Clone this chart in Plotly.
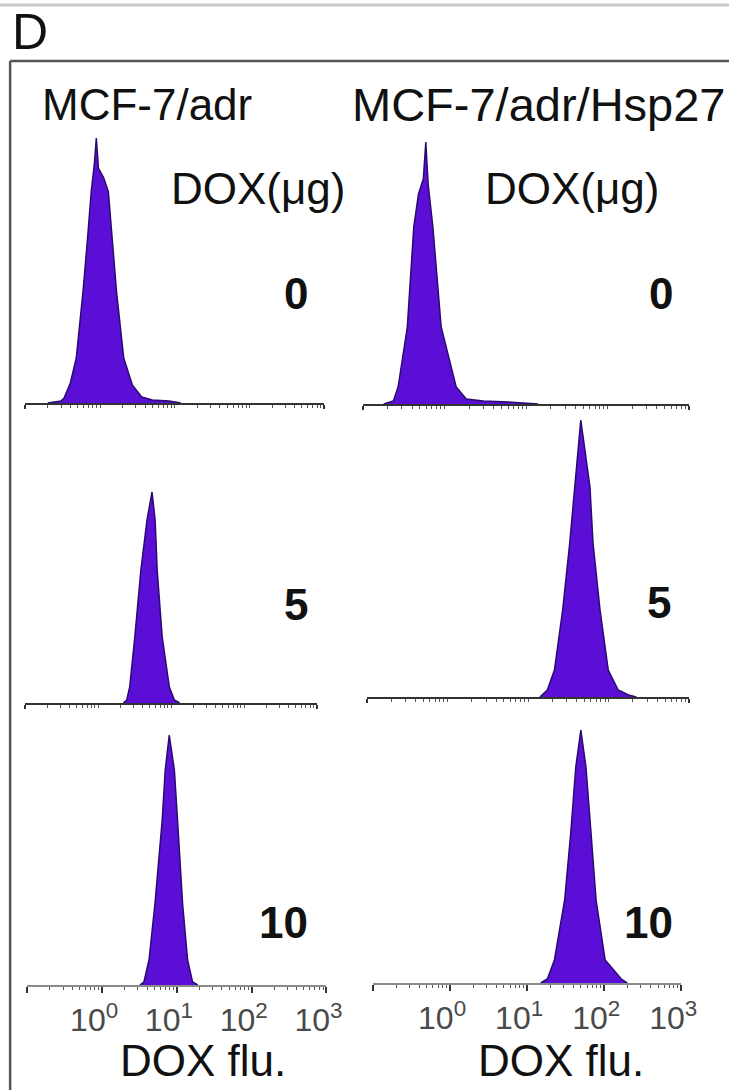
import plotly.graph_objects as go

# ---------------- data ----------------
# DOX fluorescence (linear units, log axis) and cell counts per histogram
adr_0_x = [0.20, 0.30, 0.33, 0.40, 0.48, 0.59, 0.68, 0.76, 0.84, 0.89, 0.95, 1.12, 1.29, 1.66, 2.07, 2.7, 3.6, 5.0, 8.4, 12]
adr_0_y = [0, 2, 5, 20, 45, 111, 165, 211, 240, 265, 235, 225, 211, 111, 45, 18, 6, 3, 2, 0]

hsp_0_x = [0.18, 0.236, 0.27, 0.35, 0.42, 0.48, 0.55, 0.59, 0.63, 0.72, 0.91, 1.39, 1.85, 3.0, 6.0, 10, 14]
hsp_0_y = [0, 3, 17, 77, 177, 210, 225, 262, 220, 177, 77, 17, 5, 3, 2, 1, 0]

adr_5_x = [2.2, 2.45, 2.69, 3.16, 3.83, 4.64, 5.44, 6.0, 6.4, 7.5, 9.4, 11.0, 13]
adr_5_y = [0, 3, 16, 66, 133, 183, 211, 183, 133, 66, 16, 3, 0]

hsp_5_x = [14, 17.3, 21.2, 26.8, 32.8, 37.9, 45, 58.5, 63.8, 78, 98.6, 131, 176, 220]
hsp_5_y = [0, 7, 27, 87, 154, 210, 277, 210, 154, 87, 27, 7, 2, 0]

adr_10_x = [3.2, 3.62, 4.24, 5.1, 6.36, 6.98, 7.9, 9.25, 10.2, 11.9, 13.9, 16.2, 19]
adr_10_y = [0, 3, 25, 82, 165, 215, 250, 215, 165, 82, 25, 3, 0]

hsp_10_x = [15, 18.3, 22.6, 30.7, 36.8, 42.8, 49.8, 58, 67.5, 78.5, 103, 167, 200]
hsp_10_y = [0, 4, 23, 83, 150, 216, 253, 216, 150, 83, 23, 4, 0]

cell_lines = ["MCF-7/adr", "MCF-7/adr/Hsp27"]
doses = ["0", "5", "10"]
tick_vals = [0.1, 1, 10, 100, 1000]
tick_text = ["", "10<sup>0</sup>", "10<sup>1</sup>", "10<sup>2</sup>", "10<sup>3</sup>"]

# ---------------- layout helpers ----------------
W, H = 729, 1090
FONT = "Liberation Sans, Arial, sans-serif"
FILL = "#5a0ed6"
EDGE = "#2a0a70"


def fx(p):
    return p / W


def fy(p):
    return 1 - p / H


# (x data, y data, x-left px, x-right px, baseline px, bottom row?)
panels = [
    (adr_0_x, adr_0_y, 25, 320, 403, False),
    (hsp_0_x, hsp_0_y, 358, 680, 404, False),
    (adr_5_x, adr_5_y, 25, 313, 703, False),
    (hsp_5_x, hsp_5_y, 362, 680, 697, False),
    (adr_10_x, adr_10_y, 27, 322, 985, True),
    (hsp_10_x, hsp_10_y, 368, 672, 983, True),
]

fig = go.Figure()
layout = {}
for i, (xs, ys, xl, xr, base, bottom) in enumerate(panels):
    n = i + 1
    xa = "x" if n == 1 else f"x{n}"
    ya = "y" if n == 1 else f"y{n}"
    fig.add_trace(go.Scatter(
        x=xs, y=ys, xaxis=xa, yaxis=ya, mode="lines",
        line=dict(color=EDGE, width=1.5, shape="linear"),
        fill="tozeroy", fillcolor=FILL, showlegend=False, hoverinfo="skip"))
    xkey = "xaxis" if n == 1 else f"xaxis{n}"
    ykey = "yaxis" if n == 1 else f"yaxis{n}"
    layout[xkey] = dict(
        domain=[fx(xl), fx(xr)], anchor=ya, type="log", range=[-1, 3],
        showgrid=False, zeroline=False, showline=True,
        linecolor="#8a8a8a" if bottom else "#333333", linewidth=2,
        ticks="outside", ticklen=6 if bottom else 4, tickwidth=2,
        tickcolor="#333333",
        tickvals=tick_vals, ticktext=tick_text if bottom else [""] * 5,
        showticklabels=bottom, ticklabelshift=-8,
        tickfont=dict(family=FONT, size=32, color="#4a4a4a"),
        minor=dict(ticks="outside", ticklen=3, tickcolor="#555555",
                   tickwidth=1, dtick="D1", showgrid=False),
    )
    layout[ykey] = dict(
        domain=[fy(base), fy(base - 280)], anchor=xa, range=[0, 280],
        visible=False, showgrid=False, zeroline=False)

annotations = []


def add_text(txt, x, y, size, bold=False, color="#111111"):
    annotations.append(dict(
        text=f"<b>{txt}</b>" if bold else txt, x=fx(x), y=fy(y),
        xref="paper", yref="paper", xanchor="center", yanchor="middle",
        showarrow=False, font=dict(family=FONT, size=size, color=color)))


add_text("D", 30, 32, 50)
add_text(cell_lines[0], 145, 104, 44)
add_text(cell_lines[1], 532, 104, 47)
add_text("DOX(μg)", 255, 189, 44)
add_text("DOX(μg)", 564, 189, 44)
add_text(doses[0], 292, 293, 44, bold=True)
add_text(doses[0], 652, 293, 44, bold=True)
add_text(doses[1], 292, 604, 44, bold=True)
add_text(doses[1], 650, 603, 44, bold=True)
add_text(doses[2], 280, 922, 44, bold=True)
add_text(doses[2], 640, 922, 44, bold=True)
add_text("DOX flu.", 200, 1060, 44)
add_text("DOX flu.", 553, 1060, 44)

shapes = [
    dict(type="line", xref="paper", yref="paper", x0=0, x1=1,
         y0=fy(5), y1=fy(5), line=dict(color="#c8c8c8", width=3)),
    dict(type="line", xref="paper", yref="paper", x0=fx(10), x1=1,
         y0=fy(61), y1=fy(61), line=dict(color="#555555", width=2.5)),
    dict(type="line", xref="paper", yref="paper", x0=fx(10), x1=fx(10),
         y0=fy(61), y1=0, line=dict(color="#555555", width=2.5)),
]

fig.update_layout(
    width=755, height=H, margin=dict(l=0, r=0, t=0, b=0),
    paper_bgcolor="white", plot_bgcolor="rgba(0,0,0,0)",
    annotations=annotations, shapes=shapes, **layout)

fig.write_html(
    "out.html",
    config={"displayModeBar": False},
    post_script="document.body.style.margin='0px';"
                "document.body.style.overflow='hidden';")
